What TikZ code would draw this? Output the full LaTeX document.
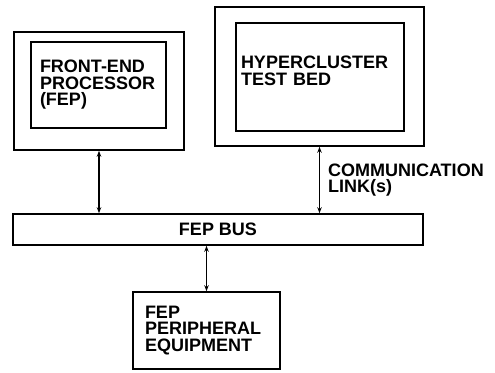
\documentclass[tikz,border=0pt]{standalone}
\usepackage{fontspec}
\setmainfont{Liberation Sans}
\usetikzlibrary{arrows.meta,positioning}

\begin{document}
\begin{tikzpicture}[x=1pt, y=-1pt,
      box/.style={draw, line width=1.6pt, inner sep=0pt},
      txtbox/.style={box, align=left, font=\fontsize{18}{16.5}\selectfont\bfseries},
      arr/.style={{Stealth[length=6pt,width=4.5pt]}-{Stealth[length=6pt,width=4.5pt]}, line width=1.2pt},
    ]
      \useasboundingbox (0,0) rectangle (495,372);

      \node[box, minimum width=170pt, minimum height=118pt] (fepout) at (99,91) {};
      \node[txtbox, inner xsep=9pt, text width=117pt, minimum height=86pt] (fep) at (98.5,85) {FRONT-END\\PROCESSOR\\(FEP)};

      \node[box, minimum width=209pt, minimum height=139pt] (hcout) at (319.5,76.5) {};
      \node[txtbox, inner xsep=5pt, text width=158pt, minimum height=108pt, text depth=29pt] (hc) at (320,77) {HYPERCLUSTER\\TEST BED};

      \node[txtbox, minimum width=410pt, minimum height=31pt] (bus) at (218,229.5) {FEP BUS};
      \node[txtbox, inner xsep=12pt, text width=123pt, minimum height=77pt] (periph) at (206.5,330.5) {FEP\\PERIPHERAL\\EQUIPMENT};

      \draw[arr] (fepout.south) -- (fepout.south |- bus.north);
      \draw[arr] (hcout.south) -- (hcout.south |- bus.north) node[midway, right=8pt, align=left, inner sep=0pt, font=\fontsize{18}{16.5}\selectfont\bfseries] (link) {COMMUNICATION\\LINK(s)};
      \draw[arr] (periph.north |- bus.south) -- (periph.north);
    \end{tikzpicture}
\end{document}
